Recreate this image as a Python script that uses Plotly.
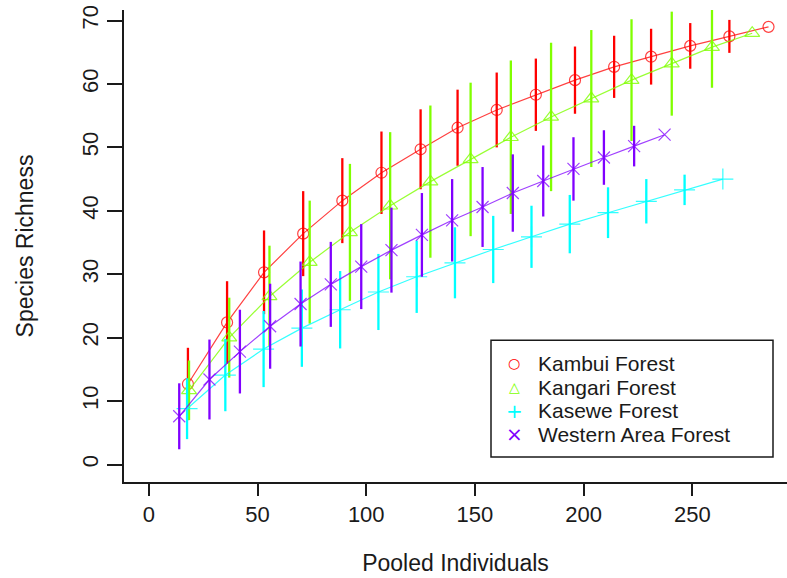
import plotly.graph_objects as go

# Sample-based rarefaction curves: mean richness and SD per pooled sample
forests = ["Kambui Forest", "Kangari Forest", "Kasewe Forest", "Western Area Forest"]
colors = ["#FF0000", "#80FF00", "#00FFFF", "#8000FF"]
soft_colors = ["rgba(255,0,0,0.75)", "rgba(128,255,0,0.8)", "rgba(0,255,255,0.8)", "rgba(128,0,255,0.75)"]
symbols = ["circle-open", "triangle-up-open", "cross-thin-open", "x-thin-open"]
marker_sizes = [11, 13, 15, 12]
legend_glyphs = ["\u25CB", "\u25B3", "+", "\u00D7"]

kambui_x = [18, 36, 53, 71, 89, 107, 125, 142, 160, 178, 196, 214, 231, 249, 267, 285]
kambui_y = [12.7, 22.4, 30.3, 36.4, 41.6, 46.0, 49.7, 53.1, 55.9, 58.3, 60.6, 62.7, 64.3, 66.0, 67.5, 69.0]
kambui_sd = [5.7, 6.5, 6.6, 6.7, 6.7, 6.5, 6.3, 6.0, 5.9, 5.7, 5.3, 4.9, 4.4, 3.6, 2.6, 0.0]

kangari_x = [18.5, 37.0, 55.5, 74.0, 92.5, 111.0, 129.5, 148.0, 166.5, 185.0, 203.5, 222.0, 240.5, 259.0, 277.5]
kangari_y = [11.7, 20.0, 26.5, 31.9, 36.6, 40.8, 44.6, 48.1, 51.6, 54.8, 57.7, 60.6, 63.2, 65.8, 68.0]
kangari_sd = [4.7, 6.3, 8.0, 9.7, 10.8, 11.6, 12.0, 12.1, 12.1, 11.7, 10.8, 9.6, 8.2, 6.4, 0.0]

kasewe_x = [17.6, 35.2, 52.8, 70.4, 88.0, 105.6, 123.2, 140.8, 158.4, 176.0, 193.6, 211.2, 228.8, 246.4, 264.0]
kasewe_y = [8.8, 14.1, 18.2, 21.5, 24.4, 27.2, 29.6, 31.8, 33.9, 35.9, 37.9, 39.7, 41.5, 43.3, 45.0]
kasewe_sd = [4.8, 5.7, 6.0, 6.1, 6.1, 6.0, 5.7, 5.6, 5.3, 4.9, 4.6, 4.0, 3.5, 2.4, 0.0]

western_x = [14.0, 27.9, 41.9, 55.8, 69.8, 83.7, 97.7, 111.6, 125.6, 139.5, 153.5, 167.4, 181.4, 195.3, 209.3, 223.2, 237.2]
western_y = [7.6, 13.4, 17.8, 21.8, 25.3, 28.4, 31.2, 33.8, 36.2, 38.5, 40.6, 42.8, 44.7, 46.6, 48.4, 50.2, 52.0]
western_sd = [5.2, 6.3, 6.6, 6.7, 6.7, 6.7, 6.7, 6.7, 6.6, 6.5, 6.3, 6.1, 5.6, 5.0, 4.3, 3.2, 0.0]

x_ticks = [0, 50, 100, 150, 200, 250]
y_ticks = [0, 10, 20, 30, 40, 50, 60, 70]

series = [
    (kambui_x, kambui_y, kambui_sd),
    (kangari_x, kangari_y, kangari_sd),
    (kasewe_x, kasewe_y, kasewe_sd),
    (western_x, western_y, western_sd),
]

FONT = "Liberation Sans, Arial, sans-serif"
INK = "#1a1a1a"

W, H = 787, 578
M_L, M_R, M_T, M_B = 124, 0, 9.5, 96
PLOT_W = W - M_L - M_R
PLOT_H = H - M_T - M_B


def px_to_paper(px, py):
    """Convert page pixel position to paper coordinates of the plot area."""
    return (px - M_L) / PLOT_W, (H - M_B - py) / PLOT_H


fig = go.Figure()
for name, color, soft, sym, msize, (xs, ys, sds) in zip(
        forests, colors, soft_colors, symbols, marker_sizes, series):
    # points with +/- SD bars, joined by a thin curve
    fig.add_trace(go.Scatter(
        x=xs, y=ys, mode="lines+markers", name=name, showlegend=False,
        line=dict(color=soft, width=1.2),
        marker=dict(symbol=sym, size=msize, color=soft, line=dict(color=soft, width=1.2)),
        error_y=dict(type="data", array=sds, visible=True, color=color, thickness=2.3, width=0),
    ))

axis_common = dict(
    showgrid=False, zeroline=False, showline=True, linecolor=INK, linewidth=1.5,
    ticks="outside", tickcolor=INK, tickwidth=1.5, mirror=False,
    tickfont=dict(family=FONT, size=22, color=INK),
)

# boxed key in the lower right of the plot area
lx0, ly_top = px_to_paper(491, 340)
lx1, ly_bot = px_to_paper(773, 457)
shapes = [dict(type="rect", xref="paper", yref="paper", x0=lx0, x1=lx1, y0=ly_bot, y1=ly_top,
               line=dict(color=INK, width=1.5), fillcolor="white", layer="above")]
annotations = []
row_py = [363, 387, 410.5, 434]
glyph_sizes = [14, 14, 20, 20]
for name, color, glyph, gsize, py in zip(forests, colors, legend_glyphs, glyph_sizes, row_py):
    gx, gy = px_to_paper(514, py)
    tx, _ = px_to_paper(536, py)
    annotations.append(dict(xref="paper", yref="paper", x=gx, y=gy, text=glyph, showarrow=False,
                            xanchor="center", yanchor="middle",
                            font=dict(family="DejaVu Sans, " + FONT, size=gsize, color=color)))
    annotations.append(dict(xref="paper", yref="paper", x=tx, y=gy, text=name, showarrow=False,
                            xanchor="left", yanchor="middle",
                            font=dict(family=FONT, size=21, color=INK)))

fig.update_layout(
    width=W, height=H,
    margin=dict(l=M_L, r=M_R, t=M_T, b=M_B),
    paper_bgcolor="white", plot_bgcolor="white",
    font=dict(family=FONT, size=22, color=INK),
    xaxis=dict(
        range=[-11.4, 293.5], tickvals=x_ticks, ticklen=12, **axis_common,
        title=dict(text="Pooled Individuals", font=dict(family=FONT, size=23), standoff=29),
    ),
    yaxis=dict(
        range=[-2.76, 71.66], tickvals=y_ticks, ticklen=15, tickangle=-90, **axis_common,
        title=dict(text="Species Richness", font=dict(family=FONT, size=23), standoff=38),
    ),
    shapes=shapes,
    annotations=annotations,
    showlegend=False,
)

fig.write_html("out.html")
